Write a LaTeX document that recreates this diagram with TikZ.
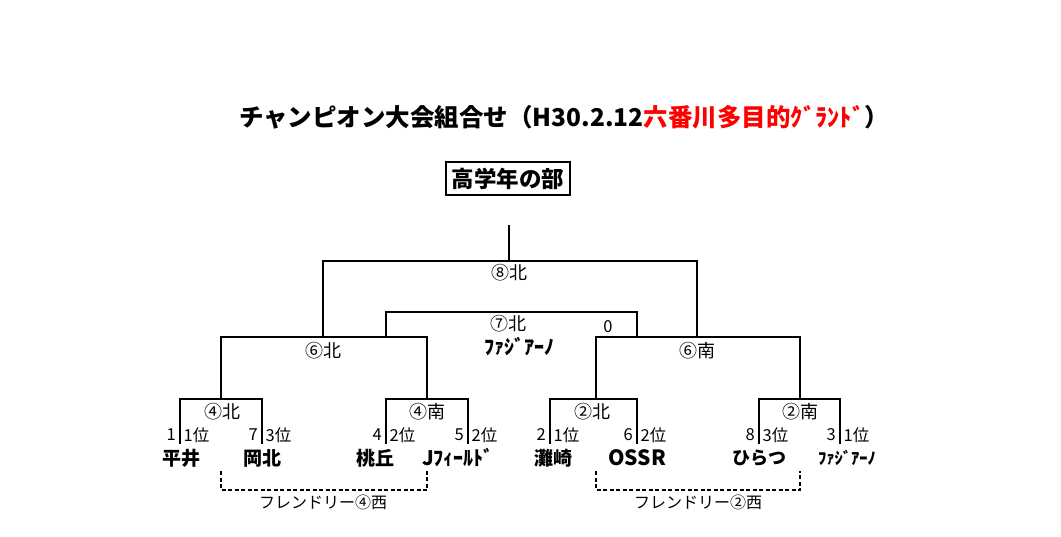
\documentclass[tikz,border=0pt]{standalone}
\usepackage{fontspec}
\setmainfont{Noto Sans CJK JP}
\begin{document}
\begin{tikzpicture}[x=1pt,y=-1pt,
  br/.style={line width=2pt},
  fr/.style={line width=1.5pt, dash pattern=on 4pt off 2.5pt},
  lbl/.style={font=\fontsize{18}{18}\selectfont, inner sep=0},
  frl/.style={font=\fontsize{16}{16}\selectfont, inner sep=0},
  team/.style={font=\bfseries\fontsize{19}{19}\selectfont, inner sep=0},
  num/.style={font=\fontsize{16.5}{16.5}\selectfont, inner sep=0, anchor=east},
  rank/.style={font=\fontsize{16.5}{16.5}\selectfont, inner sep=0, anchor=west}]
\useasboundingbox (0,0) rectangle (1061,536);
% title
\node[inner sep=0, font=\bfseries\fontsize{24.5}{24.5}\selectfont] (title) at (564,117)
  {チャンピオン大会組合せ（H30.2.12\textcolor{red}{六番川多目的ｸﾞﾗﾝﾄﾞ}）};
\node[draw, line width=1.5pt, minimum width=124pt, minimum height=33pt, inner sep=0,
  font=\bfseries\fontsize{22.5}{22.5}\selectfont] (box) at (508,178.5) {高学年の部};
% final
\coordinate (top) at (509,225);
\coordinate (f) at (509,261);
\draw[br] (top) -- (f);
\coordinate (fL) at (323,261); \coordinate (fR) at (697,261);
\coordinate (fLb) at (323,337); \coordinate (fRb) at (697,337);
\draw[br] (fLb) -- (fL) -- (fR) -- (fRb);
% 7
\coordinate (sL) at (386,312); \coordinate (sR) at (637,312);
\coordinate (sLb) at (386,337); \coordinate (sRb) at (637,337);
\draw[br] (sLb) -- (sL) -- (sR) -- (sRb);
% 6 north / south
\coordinate (aL) at (221,337); \coordinate (aR) at (427,337);
\coordinate (aLb) at (221,399); \coordinate (aRb) at (427,399);
\draw[br] (aLb) -- (aL) -- (aR) -- (aRb);
\coordinate (bL) at (596,337); \coordinate (bR) at (800,337);
\coordinate (bLb) at (596,399); \coordinate (bRb) at (800,399);
\draw[br] (bLb) -- (bL) -- (bR) -- (bRb);
% first round
\foreach \n/\l/\r in {p/180/262, q/386/468, s/550/637, t/759/840}{
  \coordinate (\n L) at (\l,399); \coordinate (\n R) at (\r,399);
  \coordinate (\n Lb) at (\l,444); \coordinate (\n Rb) at (\r,444);
  \draw[br] (\n Lb) -- (\n L) -- (\n R) -- (\n Rb);
}
% labels
\node[lbl] (l8) at (509,273) {⑧北};
\node[lbl] (l7) at (508,324) {⑦北};
\node[team, font=\bfseries\fontsize{20}{20}\selectfont] (l7t) at (519,347) {ﾌｧｼﾞｱｰﾉ};
\node[num, anchor=center] (l0) at (608,327) {0};
\node[lbl] (l6n) at (323,351) {⑥北};
\node[lbl] (l6s) at (697,351) {⑥南};
\node[lbl] (l4n) at (222,412) {④北};
\node[lbl] (l4s) at (427,412) {④南};
\node[lbl] (l2n) at (592,412) {②北};
\node[lbl] (l2s) at (800,412) {②南};
% ranks
\foreach \x/\a/\b [count=\i] in {180/1/1位, 262/7/3位, 386/4/2位, 468/5/2位, 550/2/1位, 637/6/2位, 759/8/3位, 840/3/1位}{
  \node[num] (n\i) at (\x-4,435) {\a};
  \node[rank] (r\i) at (\x+3.5,435) {\b};
}
% teams
\node[team] (t1) at (181,458) {平井};
\node[team] (t2) at (262,458) {岡北};
\node[team] (t3) at (375,458) {桃丘};
\node[team, font=\bfseries\fontsize{20}{20}\selectfont] (t4) at (458,458) {Jﾌｨｰﾙﾄﾞ};
\node[team] (t5) at (553,458) {灘崎};
\node[team, font=\bfseries\fontsize{21}{21}\selectfont] (t6) at (637,458) {OSSR};
\node[team, font=\bfseries\fontsize{18}{18}\selectfont] (t7) at (759,458) {ひらつ};
\node[team, font=\bfseries\fontsize{16.5}{16.5}\selectfont] (t8) at (847,458) {ﾌｧｼﾞｱｰﾉ};
% friendly
\coordinate (d1a) at (221,471); \coordinate (d1b) at (221,490);
\coordinate (d1c) at (427,490); \coordinate (d1d) at (427,471);
\draw[fr] (d1a) -- (d1b) -- (d1c) -- (d1d);
\node[frl] (fr1) at (323,502) {フレンドリー④西};
\coordinate (d2a) at (596,471); \coordinate (d2b) at (596,490);
\coordinate (d2c) at (800,490); \coordinate (d2d) at (800,471);
\draw[fr] (d2a) -- (d2b) -- (d2c) -- (d2d);
\node[frl] (fr2) at (698,502) {フレンドリー②西};
\end{tikzpicture}
\end{document}
